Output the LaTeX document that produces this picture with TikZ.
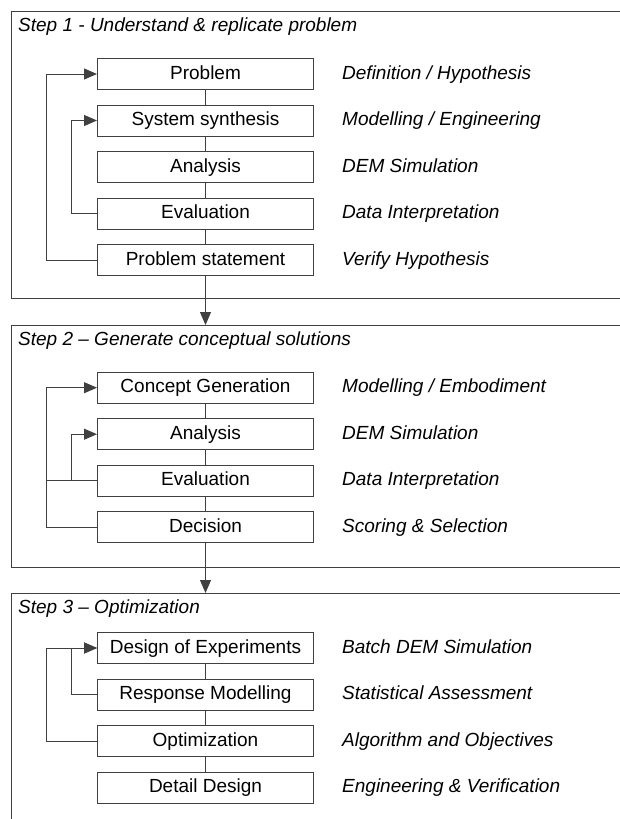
\documentclass[tikz,border=0pt]{standalone}
\usepackage{fontspec}
\setmainfont{Liberation Sans}
\usetikzlibrary{arrows.meta,positioning}

\begin{document}
\begin{tikzpicture}[x=1pt,y=1pt,
	font=\fontsize{19}{22}\selectfont,
	frame/.style={rectangle,draw=black!75,line width=1pt,inner sep=0pt,anchor=north west},
	process/.style={rectangle,draw=black!75,line width=1pt,inner sep=0pt,minimum width=216pt,minimum height=31pt,text height=14pt,text depth=4pt,text=black},
	task/.style={inner sep=0pt,text height=14pt,text depth=4pt,text=black,font=\fontsize{19}{22}\selectfont\itshape},
	title/.style={inner sep=0pt,text=black,font=\fontsize{19}{22}\selectfont\itshape},
	link/.style={draw=black!75,line width=1pt},
	paths/.style={link,-{Triangle[length=13pt,width=11pt]}}
	]
\useasboundingbox (0,0) rectangle (619,-819);

% the three steps
\node [frame,minimum width=640pt,minimum height=287pt] (s1) at (11,-11) {};
\node [frame,minimum width=640pt,minimum height=242pt] (s2) at (11,-325) {};
\node [frame,minimum width=640pt,minimum height=250pt] (s3) at (11,-593) {};

\node [title] (h1) [below right = 6.5pt and 7pt of s1.north west] {Step 1 - Understand \& replicate problem};
\node [title] (h2) [below right = 6.5pt and 7pt of s2.north west] {Step 2 -- Generate conceptual solutions};
\node [title] (h3) [below right = 6.5pt and 7pt of s3.north west] {Step 3 -- Optimization};

% step 1
\node [process] (p1) [below right = 47pt and 86pt of s1.north west] {Problem};
\node [process] (p2) [below = 14.5pt of p1] {System synthesis};
\node [process] (p3) [below = 14.5pt of p2] {Analysis};
\node [process] (p4) [below = 14.5pt of p3] {Evaluation};
\node [process] (p5) [below = 14.5pt of p4] {Problem statement};

\node [task] (t1) [right = 28pt of p1] {Definition / Hypothesis};
\node [task] (t2) [right = 28pt of p2] {Modelling / Engineering};
\node [task] (t3) [right = 28pt of p3] {DEM Simulation};
\node [task] (t4) [right = 28pt of p4] {Data Interpretation};
\node [task] (t5) [right = 28pt of p5] {Verify Hypothesis};

% step 2
\node [process] (q1) [below right = 46.7pt and 86pt of s2.north west] {Concept Generation};
\node [process] (q2) [below = 14.5pt of q1] {Analysis};
\node [process] (q3) [below = 14.5pt of q2] {Evaluation};
\node [process] (q4) [below = 14.5pt of q3] {Decision};

\node [task] (v1) [right = 28pt of q1] {Modelling / Embodiment};
\node [task] (v2) [right = 28pt of q2] {DEM Simulation};
\node [task] (v3) [right = 28pt of q3] {Data Interpretation};
\node [task] (v4) [right = 28pt of q4] {Scoring \& Selection};

% step 3
\node [process] (r1) [below right = 39pt and 86pt of s3.north west] {Design of Experiments};
\node [process] (r2) [below = 14.5pt of r1] {Response Modelling};
\node [process] (r3) [below = 14.5pt of r2] {Optimization};
\node [process] (r4) [below = 14.5pt of r3] {Detail Design};

\node [task] (w1) [right = 28pt of r1] {Batch DEM Simulation};
\node [task] (w2) [right = 28pt of r2] {Statistical Assessment};
\node [task] (w3) [right = 28pt of r3] {Algorithm and Objectives};
\node [task] (w4) [right = 28pt of r4] {Engineering \& Verification};

% flow
\draw [link] (p1) -- (p2);
\draw [link] (p2) -- (p3);
\draw [link] (p3) -- (p4);
\draw [link] (p4) -- (p5);
\draw [paths] (p5.south) -- (p5.south |- s2.north);

\draw [link] (q1) -- (q2);
\draw [link] (q2) -- (q3);
\draw [link] (q3) -- (q4);
\draw [paths] (q4.south) -- (q4.south |- s3.north);

\draw [link] (r1) -- (r2);
\draw [link] (r2) -- (r3);
\draw [link] (r3) -- (r4);

% feedback loops
\draw [paths] (p5.west) -- ++(-51,0) |- (p1.west);
\draw [paths] (p4.west) -- ++(-26,0) |- (p2.west);

\draw [paths] (q4.west) -- ++(-51,0) |- (q1.west);
\draw [link] (q3.west) -- ++(-51,0);
\draw [paths] ([xshift=-26pt]q3.west) |- (q2.west);

\draw [paths] (r3.west) -- ++(-51,0) |- (r1.west);
\draw [paths] (r2.west) -- ++(-26,0) |- (r1.west);
\end{tikzpicture}
\end{document}
